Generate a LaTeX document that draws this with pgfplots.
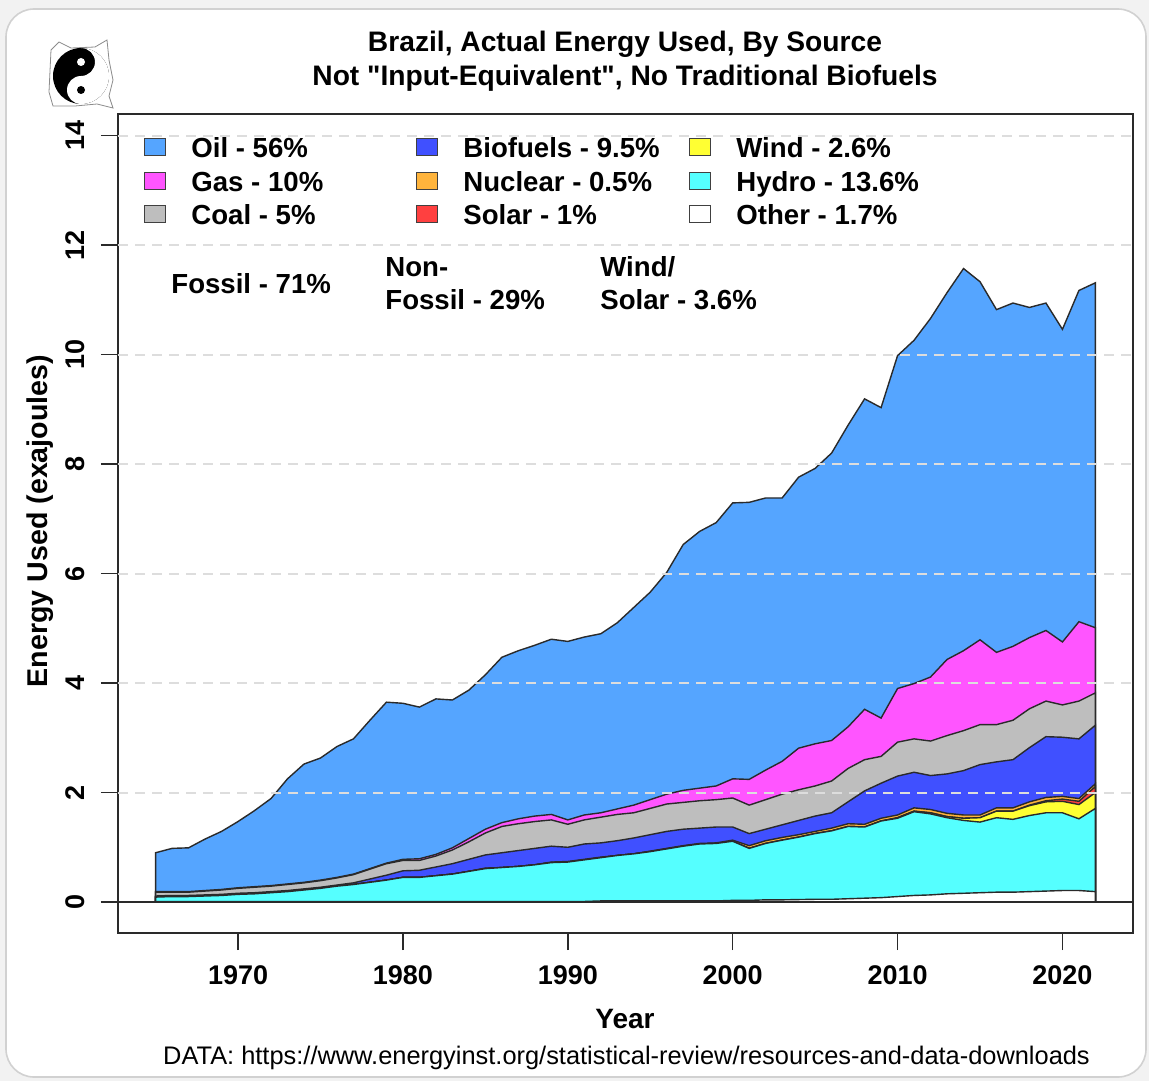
\documentclass[border=0pt]{standalone}
\usepackage{pgfplots}
\usepackage{pgfplotstable}
\pgfplotsset{compat=1.18}
\usepackage{fontspec}
\setmainfont{Liberation Sans}
\newfontfamily\qfont{Liberation Sans}

\definecolor{oilc}{HTML}{55A5FF}
\definecolor{gasc}{HTML}{FF55FF}
\definecolor{coalc}{HTML}{BEBEBE}
\definecolor{bioc}{HTML}{4050FF}
\definecolor{nucc}{HTML}{FFB43C}
\definecolor{solc}{HTML}{FF4040}
\definecolor{windc}{HTML}{FFFF33}
\definecolor{hydc}{HTML}{55FFFF}
\definecolor{othc}{HTML}{FFFFFF}
\definecolor{gridc}{HTML}{DDDDDD}
\definecolor{edgec}{HTML}{2A2A2A}

% cumulative tops (exajoules): O=Other, H=+Hydro, W=+Wind, S=+Solar, N=+Nuclear, B=+Biofuels, C=+Coal, G=+Gas, T=+Oil
\pgfplotstableread{
year O H W S N B C G T
1965 0.01 0.09 0.09 0.09 0.09 0.11 0.18 0.19 0.90
1966 0.01 0.10 0.10 0.10 0.10 0.12 0.18 0.19 0.98
1967 0.01 0.10 0.10 0.10 0.10 0.12 0.18 0.19 0.99
1968 0.01 0.11 0.11 0.11 0.11 0.13 0.20 0.21 1.15
1969 0.01 0.12 0.12 0.12 0.12 0.14 0.22 0.23 1.29
1970 0.01 0.14 0.14 0.14 0.14 0.16 0.25 0.26 1.47
1971 0.01 0.15 0.15 0.15 0.15 0.17 0.27 0.28 1.67
1972 0.01 0.17 0.17 0.17 0.17 0.19 0.29 0.30 1.89
1973 0.01 0.19 0.19 0.19 0.19 0.21 0.32 0.33 2.25
1974 0.01 0.22 0.22 0.22 0.22 0.24 0.35 0.36 2.52
1975 0.01 0.25 0.25 0.25 0.25 0.27 0.39 0.40 2.63
1976 0.01 0.29 0.29 0.29 0.29 0.31 0.44 0.45 2.84
1977 0.01 0.32 0.32 0.32 0.32 0.35 0.50 0.51 2.98
1978 0.01 0.36 0.36 0.36 0.36 0.42 0.60 0.61 3.32
1979 0.01 0.40 0.40 0.40 0.40 0.49 0.70 0.71 3.65
1980 0.01 0.45 0.45 0.45 0.45 0.57 0.76 0.78 3.63
1981 0.01 0.45 0.45 0.45 0.45 0.58 0.76 0.79 3.56
1982 0.01 0.48 0.48 0.48 0.48 0.64 0.84 0.87 3.71
1983 0.01 0.51 0.51 0.51 0.51 0.70 0.95 0.99 3.69
1984 0.01 0.56 0.56 0.56 0.56 0.78 1.10 1.16 3.87
1985 0.01 0.61 0.61 0.61 0.62 0.86 1.26 1.33 4.15
1986 0.01 0.63 0.63 0.63 0.63 0.90 1.38 1.45 4.47
1987 0.01 0.65 0.65 0.65 0.65 0.94 1.43 1.52 4.59
1988 0.01 0.68 0.68 0.68 0.68 0.98 1.47 1.57 4.69
1989 0.01 0.72 0.72 0.72 0.73 1.02 1.50 1.60 4.80
1990 0.01 0.73 0.73 0.73 0.74 1.00 1.42 1.50 4.76
1991 0.01 0.77 0.77 0.77 0.78 1.06 1.50 1.59 4.84
1992 0.02 0.81 0.81 0.81 0.82 1.08 1.55 1.63 4.90
1993 0.02 0.85 0.85 0.85 0.85 1.12 1.60 1.70 5.10
1994 0.02 0.88 0.88 0.88 0.88 1.17 1.63 1.77 5.38
1995 0.02 0.92 0.92 0.92 0.93 1.23 1.71 1.87 5.66
1996 0.02 0.97 0.97 0.97 0.98 1.29 1.79 1.97 6.02
1997 0.02 1.02 1.02 1.02 1.03 1.33 1.82 2.04 6.53
1998 0.02 1.06 1.06 1.06 1.07 1.35 1.85 2.08 6.77
1999 0.02 1.07 1.07 1.07 1.08 1.37 1.87 2.12 6.93
2000 0.03 1.11 1.11 1.11 1.13 1.37 1.90 2.25 7.29
2001 0.03 0.98 0.98 0.98 1.03 1.25 1.77 2.24 7.30
2002 0.04 1.07 1.07 1.07 1.12 1.33 1.87 2.41 7.38
2003 0.04 1.13 1.13 1.13 1.18 1.41 1.97 2.57 7.38
2004 0.045 1.185 1.185 1.185 1.23 1.49 2.05 2.81 7.76
2005 0.05 1.25 1.25 1.25 1.29 1.57 2.12 2.89 7.92
2006 0.05 1.30 1.30 1.30 1.35 1.63 2.21 2.95 8.20
2007 0.06 1.38 1.38 1.38 1.43 1.83 2.44 3.20 8.71
2008 0.07 1.37 1.37 1.37 1.42 2.03 2.60 3.52 9.19
2009 0.08 1.48 1.48 1.48 1.53 2.17 2.66 3.36 9.03
2010 0.10 1.53 1.54 1.54 1.59 2.30 2.92 3.90 9.98
2011 0.12 1.65 1.66 1.66 1.72 2.37 2.98 3.99 10.26
2012 0.13 1.61 1.63 1.63 1.69 2.31 2.94 4.11 10.66
2013 0.15 1.54 1.56 1.56 1.62 2.34 3.04 4.43 11.13
2014 0.16 1.49 1.53 1.53 1.59 2.40 3.13 4.59 11.57
2015 0.17 1.46 1.54 1.54 1.59 2.51 3.24 4.79 11.33
2016 0.18 1.54 1.66 1.66 1.72 2.56 3.24 4.56 10.82
2017 0.18 1.51 1.66 1.66 1.72 2.60 3.32 4.67 10.94
2018 0.19 1.58 1.76 1.77 1.83 2.82 3.53 4.83 10.86
2019 0.20 1.63 1.83 1.85 1.91 3.02 3.67 4.96 10.94
2020 0.21 1.63 1.84 1.88 1.93 3.01 3.60 4.75 10.46
2021 0.21 1.52 1.78 1.84 1.89 2.98 3.67 5.12 11.17
2022 0.19 1.71 2.00 2.11 2.16 3.23 3.82 5.01 11.31
}\datatable

\newcommand{\tf}{\bfseries\fontsize{13.5}{16}\selectfont}
\newcommand{\lf}{\bfseries\fontsize{13.8}{16}\selectfont}
\newcommand{\sq}{{\qfont\bfseries "}}

\begin{document}
\begin{tikzpicture}
\path[use as bounding box] (0pt,0pt) rectangle (574.5pt,-540.5pt);
\begin{scope}[x=0.5pt,y=-0.5pt]
  \fill[black!5] (0,0) rectangle (1149,1081);
  \filldraw[fill=white, draw=black!18, line width=0.8pt, rounded corners=14pt] (6,9) rectangle (1146,1077);
\end{scope}

\begin{axis}[
  at={(59pt,-466.5pt)}, anchor=south west,
  scale only axis, width=507.5pt, height=409.5pt,
  xmin=1962.72, xmax=2024.28, ymin=-0.566, ymax=14.393,
  axis line style={draw=edgec, line width=0.75pt},
  xtick={1970,1980,1990,2000,2010,2020},
  xticklabels={1970,1980,1990,2000,2010,2020},
  ytick={0,2,4,6,8,10,12,14},
  yticklabels={0,2,4,6,8,10,12,14},
  tick align=outside, xtick pos=bottom, ytick pos=left,
  major tick length=8.5pt,
  tick style={edgec, line width=0.75pt},
  xticklabel style={font=\tf, inner sep=0pt, anchor=base, yshift=-17.35pt},
  yticklabel style={font=\tf, inner sep=0pt, xshift=-8.15pt, rotate=90, anchor=base},
]
\addplot[fill=oilc, draw=edgec, line width=0.7pt] table[x=year,y=T] {\datatable} \closedcycle;
\addplot[fill=gasc, draw=edgec, line width=0.7pt] table[x=year,y=G] {\datatable} \closedcycle;
\addplot[fill=coalc, draw=edgec, line width=0.7pt] table[x=year,y=C] {\datatable} \closedcycle;
\addplot[fill=bioc, draw=edgec, line width=0.7pt] table[x=year,y=B] {\datatable} \closedcycle;
\addplot[fill=nucc, draw=edgec, line width=0.7pt] table[x=year,y=N] {\datatable} \closedcycle;
\addplot[fill=solc, draw=edgec, line width=0.7pt] table[x=year,y=S] {\datatable} \closedcycle;
\addplot[fill=windc, draw=edgec, line width=0.7pt] table[x=year,y=W] {\datatable} \closedcycle;
\addplot[fill=hydc, draw=edgec, line width=0.7pt] table[x=year,y=H] {\datatable} \closedcycle;
\addplot[fill=othc, draw=edgec, line width=0.7pt] table[x=year,y=O] {\datatable} \closedcycle;
\pgfplotsinvokeforeach{2,4,6,8,10,12,14}{
  \draw[gridc, line width=1pt, dash pattern=on 5pt off 3.5pt] (axis cs:1962.72,#1) -- (axis cs:2024.28,#1);
}
\draw[edgec, line width=0.75pt] (axis cs:1962.72,0) -- (axis cs:2024.28,0);
\end{axis}

% logo
\begin{scope}[shift={(40.5pt,-38pt)}]
  \draw[black!45, line width=0.4pt] (-15pt,13pt) -- (-11pt,17pt) -- (-5pt,14pt) -- (7pt,14.5pt) -- (13pt,18pt) -- (14pt,8pt) -- (16pt,-2pt) -- (14pt,-10pt) -- (16pt,-16pt) -- (8pt,-14pt) -- (-3pt,-15pt) -- (-14pt,-15pt) -- (-16pt,-8pt) -- cycle;
  \fill[black] (0,0) circle (14pt);
  \fill[white] (0,-14pt) arc[start angle=-90, end angle=90, radius=14pt]
     arc[start angle=90, end angle=-90, radius=7pt]
     arc[start angle=90, end angle=270, radius=7pt] -- cycle;
  \fill[white] (0,7pt) circle (2pt);
  \fill[black] (0,-7pt) circle (2pt);
\end{scope}

\begin{scope}[x=0.5pt,y=-0.5pt]
  % titles
  \node[anchor=base, inner sep=0pt, font=\bfseries\fontsize{14.1}{17}\selectfont] at (625,52) {Brazil, Actual Energy Used, By Source};
  \node[anchor=base, inner sep=0pt, font=\bfseries\fontsize{14.1}{17}\selectfont] at (625,86) {Not \sq Input-Equivalent\sq, No Traditional Biofuels};
  % axis labels
  \node[anchor=base, inner sep=0pt, font=\bfseries\fontsize{14}{17}\selectfont] at (625,1028) {Year};
  \node[anchor=base, inner sep=0pt, rotate=90, font=\bfseries\fontsize{14.3}{17}\selectfont] at (47,521) {Energy Used (exajoules)};
  \node[anchor=base, inner sep=0pt, font=\fontsize{12.7}{15}\selectfont] at (626.5,1064) {DATA: https://www.energyinst.org/statistical-review/resources-and-data-downloads};
  % legend
  \foreach \cx/\cy/\col/\txt in {
      155/147/oilc/{Oil - 56\%}, 155/181/gasc/{Gas - 10\%}, 155/214/coalc/{Coal - 5\%},
      427/147/bioc/{Biofuels - 9.5\%}, 427/181/nucc/{Nuclear - 0.5\%}, 427/214/solc/{Solar - 1\%},
      700/147/windc/{Wind - 2.6\%}, 700/181/hydc/{Hydro - 13.6\%}, 700/214/othc/{Other - 1.7\%}} {
    \filldraw[fill=\col, draw=black!75, line width=0.5pt] (\cx-10.5,\cy-8.5) rectangle (\cx+10.5,\cy+8.5);
    \node[anchor=base west, inner sep=0pt, font=\lf] at (\cx+36,\cy+10) {\txt};
  }
  % annotations
  \node[anchor=base west, inner sep=0pt, font=\lf] at (171,293) {Fossil - 71\%};
  \node[anchor=base west, inner sep=0pt, font=\lf] at (385,276) {Non-};
  \node[anchor=base west, inner sep=0pt, font=\lf] at (385,309) {Fossil - 29\%};
  \node[anchor=base west, inner sep=0pt, font=\lf] at (600,276) {Wind/};
  \node[anchor=base west, inner sep=0pt, font=\lf] at (600,309) {Solar - 3.6\%};
\end{scope}
\end{tikzpicture}
\end{document}
